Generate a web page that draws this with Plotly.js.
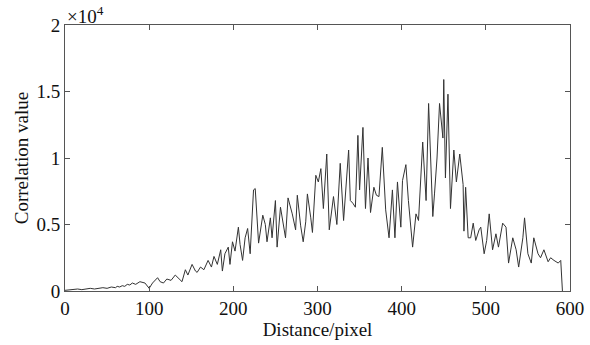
<!DOCTYPE html>
<html>
<head>
<meta charset="utf-8">
<script src="https://cdn.plot.ly/plotly-3.0.1.min.js"></script>
<style>html,body{margin:0;padding:0;background:#fff;}#chart{width:590px;height:345px;}</style>
</head>
<body>
<div id="chart"></div>
<script>
// Distance (pixel) and correlation value (x10^4)
const distance = [0,5,10,15,20,25,30,35,40,45,50,55,60,62,65,68,71,74,77,80,84,
  89,95,100,104,110,113,117,121,126,131,136,139,143,146,151,155,157,161,165,170,174,177,181,185,187,190,194,196,199,
  202,206,208,211,214,217,220,224,226,230,235,238,240,244,246,250,252,256,258,262,265,270,274,276,280,283,286,288,292,294,298,
  301,304,307,311,314,319,323,327,331,337,339,342,345,348,350,354,357,360,363,367,370,373,375,377,381,385,389,392,395,399,
  401,405,408,413,417,420,425,429,432,437,439,442,445,449,450,452,455,458,462,465,469,473,474,476,479,482,485,488,492,494,498,
  501,504,508,512,515,520,524,527,532,536,539,544,546,550,554,557,562,565,569,574,577,581,586,589,591];
const correlation = [0.005,0.01,0.01,0.015,0.01,0.015,0.02,0.015,0.02,0.025,0.02,0.03,0.025,0.035,0.03,0.04,0.035,0.05,0.045,0.06,0.05,
  0.07,0.06,0.02,0.06,0.10,0.07,0.06,0.09,0.08,0.12,0.09,0.07,0.16,0.12,0.20,0.15,0.14,0.18,0.16,0.23,0.18,0.26,0.20,0.31,0.15,0.28,0.33,0.20,0.37,
  0.30,0.48,0.35,0.23,0.40,0.47,0.28,0.76,0.77,0.36,0.57,0.50,0.37,0.55,0.40,0.68,0.33,0.63,0.55,0.40,0.70,0.58,0.46,0.72,0.49,0.37,0.52,0.73,0.55,0.44,0.87,
  0.82,0.92,0.62,1.03,0.46,0.71,0.50,0.96,0.53,1.06,0.68,0.66,0.63,1.17,0.76,1.23,0.62,1.00,0.59,0.78,0.72,0.71,0.93,1.08,0.61,0.40,0.76,0.40,0.82,0.48,
  0.83,0.95,0.68,0.33,0.58,0.53,1.12,0.68,1.41,0.56,0.73,1.00,1.41,1.15,1.59,0.85,1.48,0.62,1.06,0.82,1.03,0.80,0.45,0.78,0.40,0.40,0.51,0.38,0.46,0.48,0.28,
  0.38,0.58,0.31,0.43,0.33,0.51,0.48,0.21,0.40,0.31,0.18,0.40,0.55,0.28,0.21,0.40,0.28,0.25,0.31,0.22,0.25,0.23,0.21,0.23,0.0];
const xTicks = [0,100,200,300,400,500,600];
const yTicks = [0,0.5,1,1.5,2];
const yTickLabels = ['0','0.5','1','1.5','2'];

const font = {family: '"Liberation Serif", "Times New Roman", serif', size: 19, color: '#111'};

Plotly.newPlot('chart', [{
  x: distance, y: correlation, type: 'scatter', mode: 'lines',
  line: {color: '#333', width: 1}, hoverinfo: 'skip'
}], {
  width: 590, height: 345,
  margin: {l: 65, r: 20, t: 25, b: 54},
  paper_bgcolor: '#fff', plot_bgcolor: '#fff',
  font: font,
  showlegend: false,
  xaxis: {
    range: [0, 600], tickvals: xTicks, ticktext: xTicks.map(String),
    ticks: 'inside', ticklen: 5, tickcolor: '#555',
    showline: true, linecolor: '#555', linewidth: 1, mirror: 'ticks',
    showgrid: false, zeroline: false, tickfont: font,
    title: {text: 'Distance/pixel', font: font, standoff: 2}
  },
  yaxis: {
    range: [0, 2], tickvals: yTicks, ticktext: yTickLabels,
    ticks: 'inside', ticklen: 5, tickcolor: '#555',
    showline: true, linecolor: '#555', linewidth: 1, mirror: 'ticks',
    showgrid: false, zeroline: false, tickfont: font,
    title: {text: 'Correlation value', font: font, standoff: 2}
  },
  annotations: [{
    xref: 'paper', yref: 'paper', x: 0, y: 1, xanchor: 'left', yanchor: 'bottom',
    text: '×10<sup>4</sup>', showarrow: false, font: font, xshift: 0, yshift: -4
  }]
}, {displayModeBar: false, staticPlot: true});
</script>
</body>
</html>
